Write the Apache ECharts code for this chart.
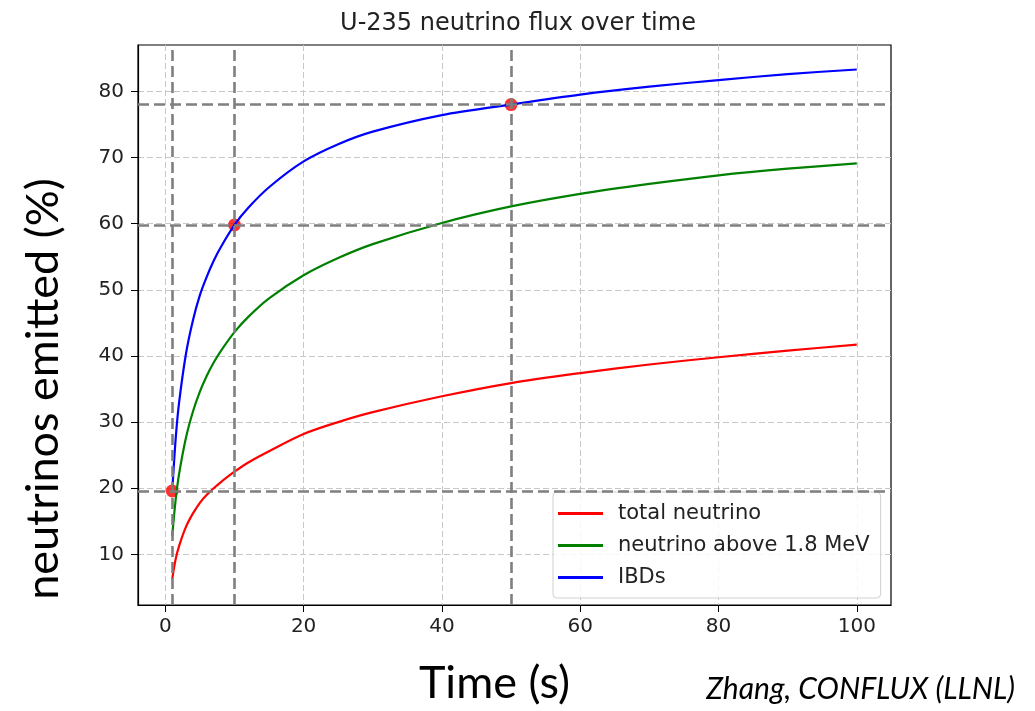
<!DOCTYPE html>
<html>
<head>
<meta charset="utf-8">
<script src="https://cdn.jsdelivr.net/npm/echarts@6/dist/echarts.min.js"></script>
<style>
  html, body { margin: 0; padding: 0; background: #fff; }
  #chart { width: 1035px; height: 711px; }
</style>
</head>
<body>
<div id="chart"></div>
<script>
// time after fission (s)
var times = [1, 1.5, 2, 3, 4, 5, 6, 7, 8, 10, 12, 15, 20, 25, 30, 40, 50, 60, 70, 80, 90, 100];
// percent of neutrinos emitted
var totalNu = [6.3, 9.3, 11.3, 14.2, 16.2, 17.8, 19.0, 20.0, 20.9, 22.5, 23.9, 25.6, 28.2, 30.0, 31.5, 33.9, 35.9, 37.4, 38.7, 39.8, 40.8, 41.7];
var above18 = [12.8, 18.3, 22.2, 27.7, 31.6, 34.6, 37.0, 39.0, 40.7, 43.6, 45.9, 48.7, 52.2, 54.8, 56.9, 60.1, 62.6, 64.5, 66.0, 67.3, 68.3, 69.1];
var ibds = [19.6, 27.5, 33.0, 40.4, 45.4, 49.2, 52.0, 54.4, 56.4, 59.8, 62.4, 65.5, 69.4, 72.0, 73.9, 76.4, 78.0, 79.5, 80.7, 81.7, 82.6, 83.3];
// marked points on the IBD curve
var markT = [1, 10, 50];
var markV = [19.6, 59.8, 78.0];
// tick labels
var xTicks = [0, 20, 40, 60, 80, 100];
var yTicks = [10, 20, 30, 40, 50, 60, 70, 80];

var names = ['total neutrino', 'neutrino above 1.8 MeV', 'IBDs'];
var colors = ['#ff0000', '#008000', '#0000ff'];

function pairs(xs, ys) {
  return xs.map(function (x, i) { return [x, ys[i]]; });
}

var mpl = 'DejaVu Sans';
var big = 'Lato';

var refLines = [];
markV.forEach(function (v) { refLines.push({ yAxis: v }); });
markT.forEach(function (t) { refLines.push({ xAxis: t }); });

var chart = echarts.init(document.getElementById('chart'));
var option = {
  animation: false,
  backgroundColor: '#fff',
  title: {
    text: 'U-235 neutrino flux over time',
    left: 513,
    textAlign: 'center',
    top: 7,
    textStyle: { fontFamily: mpl, fontSize: 24, fontWeight: 'normal', color: '#222' }
  },
  grid: {
    left: 138, right: 144, top: 45, bottom: 106,
    show: true, borderColor: '#000', borderWidth: 1.2,
    outerBoundsMode: 'none'
  },
  legend: {
    data: names,
    orient: 'vertical',
    left: 553,
    top: 492,
    icon: 'rect',
    itemWidth: 45,
    itemHeight: 3,
    itemGap: 11,
    padding: [11, 11, 10, 5],
    borderColor: '#d0d0d0',
    borderWidth: 1,
    borderRadius: 4,
    backgroundColor: 'rgba(255,255,255,0.85)',
    textStyle: { fontFamily: mpl, fontSize: 21, color: '#222', lineHeight: 20, padding: [0, 0, 0, 10] }
  },
  xAxis: {
    type: 'value',
    min: -3.95, max: 104.95,
    splitNumber: 5, minInterval: 20, maxInterval: 20,
    name: 'Time (s)',
    nameLocation: 'middle',
    nameGap: 56,
    nameTextStyle: { fontFamily: big, fontSize: 45, color: '#000', padding: [0, 40, 0, 0] },
    axisLine: { show: true, onZero: false, lineStyle: { color: '#000', width: 1.2 } },
    axisTick: { show: true, length: 7, lineStyle: { color: '#000' }, customValues: xTicks },
    axisLabel: { fontFamily: mpl, fontSize: 20, color: '#222', margin: 12, customValues: xTicks },
    splitLine: { show: true, lineStyle: { color: '#c8c8c8', type: [6, 3], width: 1 } }
  },
  yAxis: {
    type: 'value',
    min: 2.35, max: 87.0,
    splitNumber: 8, minInterval: 10, maxInterval: 10,
    name: 'neutrinos emitted (%)',
    nameLocation: 'middle',
    nameGap: 72,
    nameTextStyle: { fontFamily: big, fontSize: 45, color: '#000', padding: [0, 128, 0, 0] },
    axisLine: { show: true, onZero: false, lineStyle: { color: '#000', width: 1.2 } },
    axisTick: { show: true, length: 7, lineStyle: { color: '#000' }, customValues: yTicks },
    axisLabel: { fontFamily: mpl, fontSize: 20, color: '#222', margin: 14, customValues: yTicks },
    splitLine: { show: true, lineStyle: { color: '#c8c8c8', type: [6, 3], width: 1 } }
  },
  graphic: [{
    type: 'text',
    right: 20,
    top: 674,
    style: { text: 'Zhang, CONFLUX (LLNL)', font: 'italic 30px Lato', fill: '#000' }
  }],
  series: [
    {
      name: 'marks',
      type: 'scatter',
      z: 1,
      symbolSize: 13,
      itemStyle: { color: '#ff0000' },
      data: pairs(markT, markV)
    },
    {
      name: 'ref',
      type: 'line',
      z: 2,
      data: [],
      markLine: {
        silent: true,
        symbol: 'none',
        label: { show: false },
        lineStyle: { color: '#7f7f7f', width: 2.6, type: [11, 5] },
        data: refLines
      }
    }
  ].concat([totalNu, above18, ibds].map(function (vals, i) {
    return {
      name: names[i],
      type: 'line',
      z: 3,
      smooth: 0.3,
      showSymbol: false,
      lineStyle: { color: colors[i], width: 2.2 },
      itemStyle: { color: colors[i] },
      data: pairs(times, vals)
    };
  }))
};
chart.setOption(option);
</script>
</body>
</html>
